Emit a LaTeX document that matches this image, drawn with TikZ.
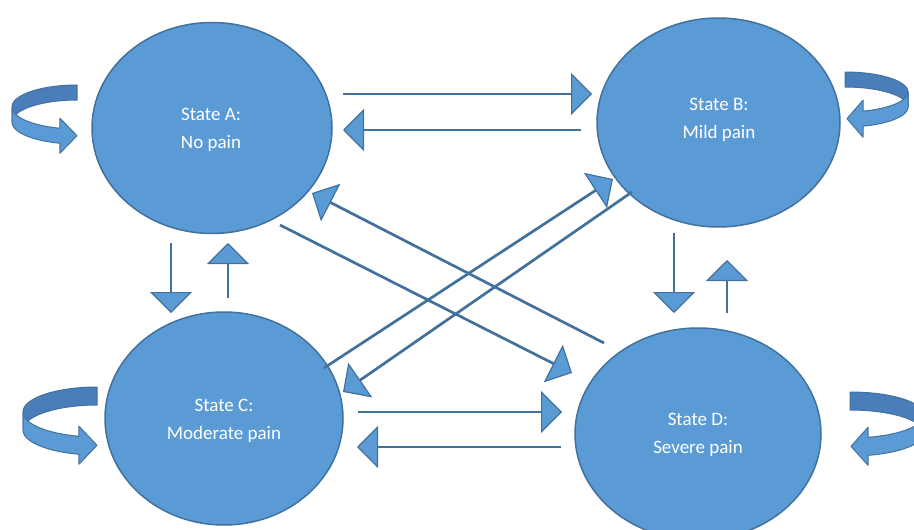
\documentclass[tikz,border=0pt]{standalone}
\usepackage{fontspec}
\setmainfont{Carlito}
\usetikzlibrary{shapes.geometric,arrows.meta}
\definecolor{fillblue}{HTML}{5B9BD5}
\definecolor{edgeblue}{HTML}{41719C}
\definecolor{backblue}{HTML}{4A7EBB}
% #1 cx, #2 cy, #3 rx, #4 ry, #5 band height, #6 side (+1 left, -1 right), #7 end angle, #8 arrow half width, #9 arrow length
\newcommand{\myribbon}[9]{%
  \pgfmathsetmacro\rbnbx{#1+#6*#3*cos(#7)}%
  \pgfmathsetmacro\rbnby{#2+#4*sin(#7)+#5/2}%
  \pgfmathsetmacro\rbntx{\rbnbx+#6*#9}%
  \pgfmathsetmacro\rbnbt{\rbnby-#8}%
  \pgfmathsetmacro\rbnbb{\rbnby+#8}%
  \filldraw[backband] plot[domain=270:180,samples=40] ({#1+#6*#3*cos(\x)},{#2+#4*sin(\x)})
     -- plot[domain=180:270,samples=40] ({#1+#6*#3*cos(\x)},{#2+#5+#4*sin(\x)}) -- cycle;
  \filldraw[frontband] plot[domain=180:#7,samples=40] ({#1+#6*#3*cos(\x)},{#2+#4*sin(\x)})
     -- (\rbnbx,\rbnbt) -- (\rbntx,\rbnby) -- (\rbnbx,\rbnbb)
     -- plot[domain=#7:180,samples=40] ({#1+#6*#3*cos(\x)},{#2+#5+#4*sin(\x)}) -- cycle;
}
\tikzset{
  state/.style={ellipse, draw=edgeblue, fill=fillblue, line width=1.5pt, inner sep=0pt, outer sep=0pt},
  lbl/.style={text=white, align=center, font=\fontsize{19}{28}\selectfont, inner sep=0pt},
  conn/.style={draw=edgeblue, line width=2.7pt,
    -{Triangle[length=21pt,width=42pt,fill=fillblue,line width=1.2pt]}},
  backband/.style={fill=backblue, draw=edgeblue, line width=1pt, line join=round},
  frontband/.style={fill=fillblue, draw=edgeblue, line width=1pt, line join=round}
}
\begin{document}
\begin{tikzpicture}[x=1pt,y=-1pt]
\useasboundingbox (0,0) rectangle (914,530);
\fill[white] (0,0) rectangle (914,530);
\clip (0,0) rectangle (914,530);
% states
\node[state, minimum width=240pt, minimum height=211pt] (A) at (212,128) {};
\node[state, minimum width=243pt, minimum height=209pt] (B) at (718.5,122.5) {};
\node[state, minimum width=238pt, minimum height=213pt] (C) at (224,418.5) {};
\node[state, minimum width=246pt, minimum height=212pt] (D) at (698,434) {};
\node[lbl] (Atext) at (211,129.5) {State A:\\No pain};
\node[lbl] (Btext) at (719,120) {State B:\\Mild pain};
\node[lbl] (Ctext) at (224,420.5) {State C:\\Moderate pain};
\node[lbl] (Dtext) at (698,435) {State D:\\Severe pain};
% connector end points
\coordinate (ab1) at (343,94);  \coordinate (ab2) at (592,94);
\coordinate (ba1) at (581,130); \coordinate (ba2) at (343,130);
\coordinate (ac1) at (171,243); \coordinate (ac2) at (171,313);
\coordinate (ca1) at (228,298); \coordinate (ca2) at (228,243);
\coordinate (bd1) at (674,233); \coordinate (bd2) at (674,313);
\coordinate (db1) at (727,313); \coordinate (db2) at (727,260);
\coordinate (cd1) at (358,412); \coordinate (cd2) at (562,412);
\coordinate (dc1) at (561,447); \coordinate (dc2) at (357,447);
\coordinate (cb1) at (324,368); \coordinate (cb2) at (613,179);
\coordinate (bc1) at (632,192); \coordinate (bc2) at (343,392);
\coordinate (ad1) at (280,225); \coordinate (ad2) at (572,373);
\coordinate (da1) at (604,343); \coordinate (da2) at (312,193);
\draw[conn] (ab1) -- (ab2);
\draw[conn] (ba1) -- (ba2);
\draw[conn] (ac1) -- (ac2);
\draw[conn] (ca1) -- (ca2);
\draw[conn] (bd1) -- (bd2);
\draw[conn] (db1) -- (db2);
\draw[conn] (cd1) -- (cd2);
\draw[conn] (dc1) -- (dc2);
\draw[conn] (cb1) -- (cb2);
\draw[conn] (bc1) -- (bc2);
\draw[conn] (ad1) -- (ad2);
\draw[conn] (da1) -- (da2);
% self loops
\myribbon{77}{107}{65}{22}{15}{1}{105.2}{17.5}{17}
\myribbon{845}{92}{63}{20}{15}{-1}{106.6}{18.5}{16}
\myribbon{97}{412}{74}{25}{18}{1}{104.1}{19}{18}
\myribbon{850}{415}{74}{23}{18}{-1}{104.1}{19}{17}
\end{tikzpicture}
\end{document}
